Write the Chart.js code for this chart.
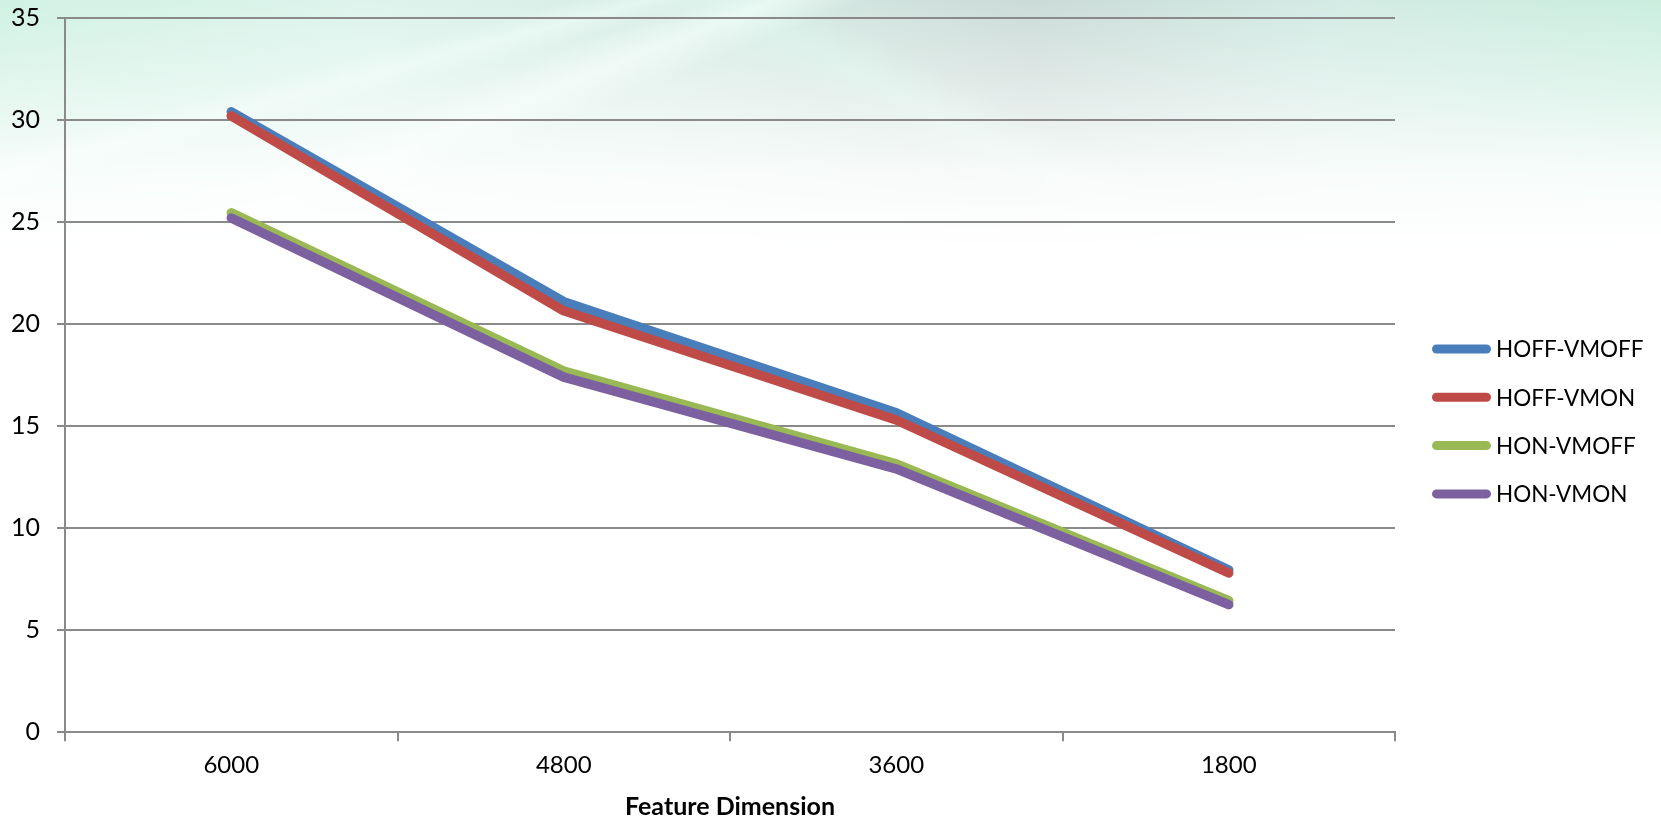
<!DOCTYPE html>
<html>
<head>
<meta charset="utf-8">
<script src="https://cdn.jsdelivr.net/npm/chart.js@4/dist/chart.umd.min.js"></script>
<style>
  html, body { margin: 0; padding: 0; background: #ffffff; }
  #wrap {
    position: relative; width: 1661px; height: 822px; overflow: hidden; background: #ffffff;
  }
  #sky {
    position: absolute; left: 0; top: 0; width: 1661px; height: 250px;
    background:
      linear-gradient(158deg, rgba(255,255,255,0) 30%, rgba(240,253,248,0.7) 34%, rgba(255,255,255,0) 38%),
      linear-gradient(165deg, rgba(255,255,255,0) 22%, rgba(236,252,246,0.6) 25%, rgba(255,255,255,0) 28%),
      linear-gradient(28deg, rgba(255,255,255,0) 52%, rgba(214,244,232,0.55) 56%, rgba(255,255,255,0) 60%),
      linear-gradient(to right, #d0f1e3 0%, #ddf4ec 22%, #d6eae4 45%, #cbdbd7 62%, #d3ebe4 80%, #caeedf 100%);
    -webkit-mask-image: linear-gradient(to bottom, rgba(0,0,0,1) 0%, rgba(0,0,0,0.6) 35%, rgba(0,0,0,0.15) 70%, rgba(0,0,0,0) 100%);
    mask-image: linear-gradient(to bottom, rgba(0,0,0,1) 0%, rgba(0,0,0,0.6) 35%, rgba(0,0,0,0.15) 70%, rgba(0,0,0,0) 100%);
  }
  canvas { position: absolute; left: 0; top: 0; }
</style>
</head>
<body>
<div id="wrap"><div id="sky"></div><canvas id="c" width="1661" height="822"></canvas></div>
<script>
// Feature dimension categories and the four configurations
const categories = ['6000', '4800', '3600', '1800'];
const seriesNames = ['HOFF-VMOFF', 'HOFF-VMON', 'HON-VMOFF', 'HON-VMON'];
const hoffVmoff = [30.4, 21.1, 15.65, 7.95];
const hoffVmon  = [30.2, 20.65, 15.3, 7.8];
const honVmoff  = [25.45, 17.7, 13.15, 6.45];
const honVmon   = [25.2, 17.4, 12.9, 6.25];
const yTicks = [0, 5, 10, 15, 20, 25, 30, 35];
const xTitle = 'Feature Dimension';

const colors = ['#4A7EBB', '#BE4B48', '#98B954', '#7D60A0'];
const values = [hoffVmoff, hoffVmon, honVmoff, honVmon];
const FONT = 'Lato, "Open Sans", sans-serif';
const GRID = '#8a8a8a';

const datasets = values.map((v, i) => ({
  label: seriesNames[i],
  data: v,
  borderColor: colors[i],
  backgroundColor: colors[i],
  borderWidth: 9.5,
  borderCapStyle: 'round',
  borderJoinStyle: 'round',
  pointRadius: 0,
  pointHoverRadius: 0,
  tension: 0,
  fill: false,
  order: 4 - i   // later series are painted over earlier ones
}));

// Legend drawn at the right of the plot: line sample + label per series
const sideLegend = {
  id: 'sideLegend',
  afterDraw(chart) {
    const ctx = chart.ctx;
    const x0 = 1432, x1 = 1491, tx = 1496, y0 = 349, dy = 48.3;
    ctx.save();
    ctx.font = '22.5px ' + FONT;
    ctx.textBaseline = 'middle';
    ctx.textAlign = 'left';
    chart.data.datasets.forEach((ds, i) => {
      const y = y0 + i * dy;
      ctx.strokeStyle = ds.borderColor;
      ctx.lineWidth = 9;
      ctx.lineCap = 'round';
      ctx.beginPath();
      ctx.moveTo(x0 + 4.5, y);
      ctx.lineTo(x1 - 4.5, y);
      ctx.stroke();
      ctx.fillStyle = '#000000';
      ctx.fillText(ds.label, tx, y + 1);
    });
    ctx.restore();
  }
};

new Chart(document.getElementById('c'), {
  type: 'line',
  data: { labels: categories, datasets },
  plugins: [sideLegend],
  options: {
    responsive: false,
    animation: false,
    devicePixelRatio: 1,
    layout: { padding: { left: 0, right: 266, top: 18, bottom: 0 } },
    plugins: { legend: { display: false }, tooltip: { enabled: false } },
    scales: {
      x: {
        type: 'category',
        offset: true,
        grid: {
          offset: true,
          drawOnChartArea: false,
          drawTicks: true,
          tickLength: 9,
          color: GRID,
          lineWidth: 2
        },
        border: { display: true, color: GRID, width: 2 },
        ticks: { color: '#000', font: { family: FONT, size: 24 }, padding: 10, maxRotation: 0 },
        title: {
          display: true,
          text: xTitle,
          color: '#000',
          font: { family: FONT, size: 25, weight: 'bold' },
          padding: { top: 2, bottom: 0 }
        }
      },
      y: {
        min: 0,
        max: 35,
        afterBuildTicks(axis) { axis.ticks = yTicks.map(v => ({ value: v })); },
        afterFit(axis) { axis.width = 65; axis.paddingTop = 0; axis.paddingBottom = 0; },
        grid: { color: GRID, lineWidth: 2, drawTicks: true, tickLength: 8 },
        border: { display: true, color: GRID, width: 2 },
        ticks: { color: '#000', font: { family: FONT, size: 25 }, padding: 17 }
      }
    }
  }
});
</script>
</body>
</html>
